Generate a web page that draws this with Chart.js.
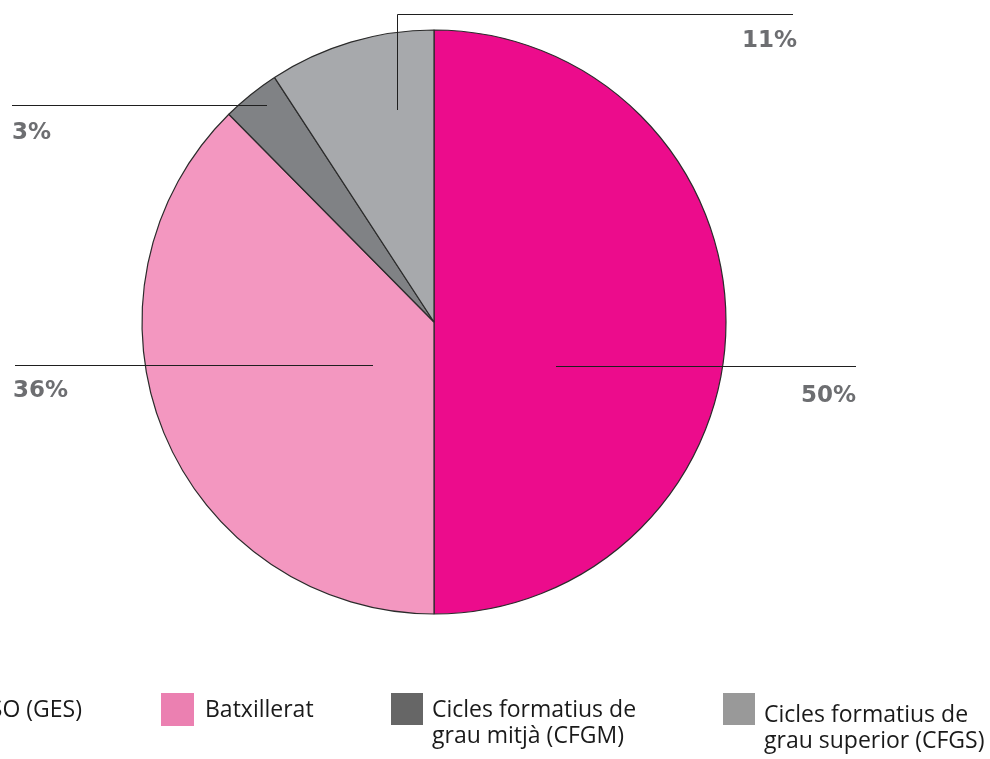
<!DOCTYPE html>
<html>
<head>
<meta charset="utf-8">
<style>
  html, body { margin: 0; padding: 0; background: #ffffff; overflow: hidden; }
  #wrap { width: 990px; height: 759px; }
</style>
<script src="https://cdn.jsdelivr.net/npm/chart.js@4/dist/chart.umd.min.js"></script>
</head>
<body>
<div id="wrap"><canvas id="c" width="990" height="759"></canvas></div>
<script>
// ---- data ----
const categories = [
  ['Graduat en ESO (GES)'],
  ['Batxillerat'],
  ['Cicles formatius de', 'grau mitjà (CFGM)'],
  ['Cicles formatius de', 'grau superior (CFGS)']
];
const shares = [50, 37.6, 3.2, 9.2];
const percentLabels = ['50%', '36%', '3%', '11%'];

// ---- styles ----
const sliceColors = ['#ec0c8c', '#f397c0', '#808285', '#a7a9ac'];
const legendColors = ['#ec0c8c', '#eb80b1', '#666666', '#999999'];
const FONT = '"Open Sans", "Noto Sans", sans-serif';
const LABEL_FONT = 'bold 23px "DejaVu Sans", sans-serif';

// leader line layout, offsets from pie centre in px
const leaders = [
  { pts: [[122, 44.5], [422, 44.5]], label: [422, 80], align: 'right' },
  { pts: [[-61, 43.5], [-419, 43.5]], label: [-421, 75], align: 'left' },
  { pts: [[-167, -216.5], [-422, -216.5]], label: [-422, -183], align: 'left' },
  { pts: [[-36.5, -212], [-36.5, -307.5], [359, -307.5]], label: [363, -275], align: 'right' }
];

// legend layout
const legendLayout = [
  { box: null, textX: 82, textAlign: 'right', baseline: 717 },
  { box: [161, 693, 33, 33], textX: 205, textAlign: 'left', baseline: 717 },
  { box: [391, 693, 32, 32], textX: 432, textAlign: 'left', baseline: 717 },
  { box: [723, 693, 32, 32], textX: 764, textAlign: 'left', baseline: 722 }
];

const annotate = {
  id: 'annotate',
  afterDraw(chart) {
    const ctx = chart.ctx;
    const arcs = chart.getDatasetMeta(0).data;
    const cx = arcs[0].x, cy = arcs[0].y;
    ctx.save();
    // leader lines
    ctx.strokeStyle = '#1f1f1f';
    ctx.lineWidth = 1;
    leaders.forEach((l, i) => {
      ctx.beginPath();
      l.pts.forEach((p, j) => {
        if (j === 0) ctx.moveTo(cx + p[0], cy + p[1]);
        else ctx.lineTo(cx + p[0], cy + p[1]);
      });
      ctx.stroke();
      ctx.fillStyle = '#6d6e71';
      ctx.font = LABEL_FONT;
      ctx.textAlign = l.align;
      ctx.textBaseline = 'alphabetic';
      ctx.fillText(percentLabels[i], cx + l.label[0], cy + l.label[1]);
    });
    // legend
    ctx.font = '23px ' + FONT;
    ctx.textBaseline = 'alphabetic';
    categories.forEach((lines, i) => {
      const L = legendLayout[i];
      if (L.box) {
        ctx.fillStyle = legendColors[i];
        ctx.fillRect(L.box[0], L.box[1], L.box[2], L.box[3]);
      }
      ctx.fillStyle = '#1a1a1a';
      ctx.textAlign = L.textAlign;
      lines.forEach((t, k) => {
        ctx.fillText(t, L.textX, L.baseline + k * 26);
      });
    });
    ctx.restore();
  }
};

new Chart(document.getElementById('c'), {
  type: 'pie',
  data: {
    labels: categories,
    datasets: [{
      data: shares,
      backgroundColor: sliceColors,
      borderColor: '#2b2b2b',
      borderWidth: 1.2
    }]
  },
  options: {
    responsive: false,
    animation: false,
    radius: 292,
    layout: { padding: { left: 142, right: 264, top: 30, bottom: 145 } },
    plugins: {
      legend: { display: false },
      tooltip: { enabled: false }
    }
  },
  plugins: [annotate]
});
</script>
</body>
</html>
